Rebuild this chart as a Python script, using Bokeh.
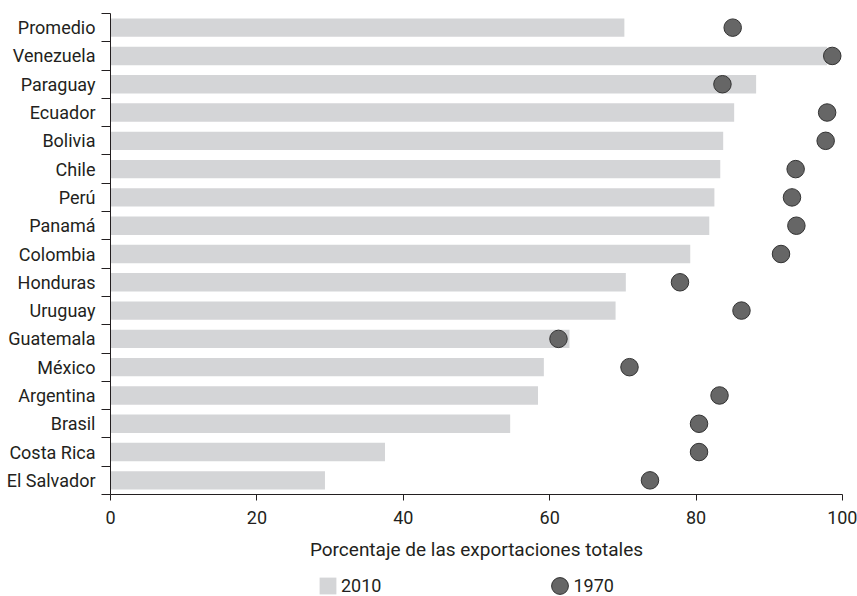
from bokeh.plotting import figure
from bokeh.models import Range1d, FixedTicker, Legend, LegendItem
from bokeh.embed import file_html
from bokeh.resources import INLINE

countries = ["Promedio", "Venezuela", "Paraguay", "Ecuador", "Bolivia", "Chile",
             "Perú", "Panamá", "Colombia", "Honduras", "Uruguay", "Guatemala",
             "México", "Argentina", "Brasil", "Costa Rica", "El Salvador"]
share_2010 = [70.2, 97.9, 88.2, 85.2, 83.7, 83.3, 82.5, 81.8, 79.2, 70.4, 69.0,
              62.7, 59.2, 58.4, 54.6, 37.5, 29.3]
share_1970 = [85.0, 98.6, 83.6, 97.9, 97.7, 93.6, 93.1, 93.7, 91.6, 77.8, 86.2,
              61.2, 70.9, 83.2, 80.4, 80.4, 73.7]
x_ticks = [0, 20, 40, 60, 80, 100]
legend_labels = ["2010", "1970"]
x_title = "Porcentaje de las exportaciones totales"

FONT = "Roboto"
FS = "18px"
TEXT = "#231f20"
AXIS = "#231f20"
BAR = "#d4d5d7"
DOT = "#666666"

# page layout (pixels): margins around the bar area
W, H = 857, 596
LEFT, RIGHT, TOP, BOTTOM = 110, 15, 13, 102

n = len(countries)
pos = [n - i for i in range(n)]
bounds = [k + 0.5 for k in range(n + 1)]
x_lo, x_hi = 0, 100
y_lo, y_hi = 0.5, n + 0.5

# the whole canvas is the plot frame; ranges are extended so that the
# bar area sits at the wanted pixel place and axes are fixed inside it
xpp = (x_hi - x_lo) / (W - LEFT - RIGHT)
ypp = (y_hi - y_lo) / (H - TOP - BOTTOM)
x_range = Range1d(x_lo - LEFT * xpp, x_hi + RIGHT * xpp)
y_range = Range1d(y_lo - BOTTOM * ypp, y_hi + TOP * ypp)

p = figure(width=W, height=H, output_backend="svg", toolbar_location=None,
           x_range=x_range, y_range=y_range, min_border=0,
           min_border_top=0, min_border_right=0, min_border_left=0,
           min_border_bottom=0)
p.xgrid.grid_line_color = None
p.ygrid.grid_line_color = None
p.outline_line_color = None

bars = p.hbar(y=pos, left=0, right=share_2010, height=0.65, fill_color=BAR,
              line_color=None)
dots = p.ellipse(x=share_1970, y=pos, width=17.5, height=17.5,
                 width_units="screen", height_units="screen",
                 fill_color=DOT, line_color="#333333", line_width=1)

xa = p.xaxis[0]
xa.fixed_location = y_lo
xa.bounds = (x_lo, x_hi)
xa.ticker = FixedTicker(ticks=x_ticks)
xa.major_tick_out = 6
xa.major_tick_in = 0
xa.minor_tick_out = 0
xa.minor_tick_in = 0
xa.axis_line_color = AXIS
xa.major_tick_line_color = AXIS
xa.major_label_standoff = 10
xa.major_label_text_font = FONT
xa.major_label_text_font_size = FS
xa.major_label_text_color = TEXT
xa.axis_label = x_title
xa.axis_label_standoff = 11
xa.axis_label_text_font = FONT
xa.axis_label_text_font_size = "19px"
xa.axis_label_text_font_style = "normal"
xa.axis_label_text_color = TEXT

ya = p.yaxis[0]
ya.fixed_location = x_lo
ya.bounds = (y_lo, y_hi)
ya.ticker = FixedTicker(ticks=pos, minor_ticks=bounds)
ya.major_tick_line_color = None
ya.major_tick_out = 0
ya.major_tick_in = 0
ya.minor_tick_out = 9
ya.minor_tick_in = 0
ya.minor_tick_line_color = AXIS
ya.axis_line_color = AXIS
ya.major_label_overrides = {pos[i]: countries[i] for i in range(n)}
ya.major_label_standoff = 6
ya.major_label_text_font = FONT
ya.major_label_text_font_size = FS
ya.major_label_text_color = TEXT

legend = Legend(items=[LegendItem(label=legend_labels[0], renderers=[bars]),
                       LegendItem(label=legend_labels[1], renderers=[dots])],
                orientation="horizontal", location=(317, 0),
                glyph_width=21, glyph_height=21, label_standoff=3, spacing=168,
                padding=0, margin=0, border_line_color=None,
                background_fill_alpha=0, label_text_font=FONT,
                label_text_font_size=FS, label_text_color=TEXT)
p.add_layout(legend)

open("out.html", "w").write(file_html(p, INLINE))
